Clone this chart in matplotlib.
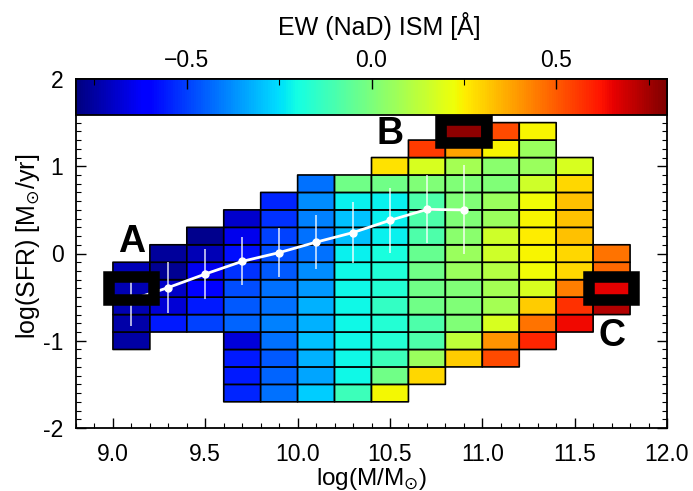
import numpy as np
import matplotlib
matplotlib.use('Agg')
import matplotlib.pyplot as plt
from matplotlib.patches import Rectangle
from matplotlib.ticker import MultipleLocator

plt.rcParams['font.family'] = ['Liberation Sans', 'DejaVu Sans']
plt.rcParams['axes.unicode_minus'] = False

# bin edges of the mass / SFR grid
mass_edges = [9.0, 9.2, 9.4, 9.6, 9.8, 10.0, 10.2, 10.4, 10.6, 10.8, 11.0, 11.2, 11.4, 11.6, 11.8]
sfr_edges = [-1.7, -1.5, -1.3, -1.1, -0.9, -0.7, -0.5, -0.3, -0.1, 0.1, 0.3, 0.5, 0.7, 0.9, 1.1, 1.3, 1.5]

N = np.nan
# EW(NaD) ISM per cell, rows listed from top (SFR 1.3-1.5) to bottom (SFR -1.7 to -1.5)
ew_rows = [
    [N, N, N, N, N, N, N, N, N, 0.78, 0.53, 0.24, N, N],
    [N, N, N, N, N, N, N, N, 0.55, 0.375, 0.24, 0.06, N, N],
    [N, N, N, N, N, N, N, 0.27, 0.18, 0.08, 0.03, 0.06, 0.18, N],
    [N, N, N, N, N, -0.42, -0.02, -0.02, 0.01, 0.01, 0.01, 0.16, 0.29, N],
    [N, N, N, N, -0.54, -0.38, -0.22, -0.22, -0.09, 0.01, 0.06, 0.23, 0.33, N],
    [N, N, N, -0.69, -0.52, -0.40, -0.30, -0.22, -0.09, 0.01, 0.06, 0.24, 0.33, N],
    [N, N, -0.78, -0.65, -0.50, -0.42, -0.30, -0.22, -0.09, 0.03, 0.16, 0.25, 0.33, N],
    [N, -0.76, -0.72, -0.58, -0.48, -0.42, -0.22, -0.19, -0.04, 0.06, 0.16, 0.24, 0.29, 0.46],
    [-0.72, -0.77, -0.64, -0.52, -0.46, -0.38, -0.21, -0.18, -0.02, 0.06, 0.11, 0.23, 0.29, 0.48],
    [-0.73, -0.70, -0.62, -0.48, -0.42, -0.36, -0.21, -0.17, -0.02, 0.01, 0.08, 0.18, 0.44, 0.66],
    [-0.73, -0.68, -0.56, -0.46, -0.42, -0.32, -0.21, -0.14, -0.02, 0.01, 0.08, 0.31, 0.57, 0.73],
    [-0.74, -0.56, -0.50, -0.44, -0.40, -0.32, -0.21, -0.17, -0.09, 0.01, 0.18, 0.46, 0.64, N],
    [-0.75, N, N, -0.67, -0.42, -0.30, -0.21, -0.17, -0.09, 0.13, 0.40, 0.59, N, N],
    [N, N, N, -0.56, -0.46, -0.32, -0.21, -0.12, 0.06, 0.31, 0.53, N, N, N],
    [N, N, N, -0.56, -0.44, -0.34, -0.21, -0.02, 0.29, N, N, N, N, N],
    [N, N, N, -0.54, -0.42, -0.28, -0.12, 0.235, N, N, N, N, N, N],
]

# mean SFR in mass bins with scatter
mass_mid = [9.1, 9.3, 9.5, 9.7, 9.9, 10.1, 10.3, 10.5, 10.7, 10.9]
sfr_mean = [-0.53, -0.39, -0.235, -0.09, 0.01, 0.13, 0.24, 0.38, 0.505, 0.50]
sfr_err = [0.30, 0.29, 0.29, 0.275, 0.28, 0.31, 0.35, 0.37, 0.39, 0.51]

# highlighted cells
box_labels = ['A', 'B', 'C']
box_x = [9.1, 10.9, 11.7]
box_y = [-0.4, 1.4, -0.4]
letter_x = [9.1, 10.5, 11.7]
letter_y = [0.13, 1.365, -0.94]

ew_grid = np.ma.masked_invalid(np.array(ew_rows[::-1]))

fig = plt.figure(figsize=(6.93, 4.91), dpi=100)
ax = fig.add_axes([76/693, 63/491, 591/693, 349/491])
cax = fig.add_axes([76/693, 376/491, 591/693, 36/491])

mesh = ax.pcolor(mass_edges, sfr_edges, ew_grid, cmap='jet', vmin=-0.8, vmax=0.8,
                 edgecolors='k', linewidth=1.2, zorder=1)

ax.errorbar(mass_mid, sfr_mean, yerr=sfr_err, fmt='none', ecolor='white',
            elinewidth=1.3, alpha=0.75, zorder=3)
ax.plot(mass_mid, sfr_mean, '-o', color='white', lw=2, ms=5, zorder=4)

for i in range(len(box_labels)):
    w, h = 0.246, 0.264
    ax.add_patch(Rectangle((box_x[i] - w/2, box_y[i] - h/2), w, h, fill=False,
                           ec='k', lw=8.3, joinstyle='miter', zorder=5))
    ax.text(letter_x[i], letter_y[i], box_labels[i], fontsize=27, fontweight='bold',
            ha='center', va='center', zorder=6)

ax.set_xlim(8.8, 12.0)
ax.set_ylim(-2, 2)
xt = [9.0, 9.5, 10.0, 10.5, 11.0, 11.5, 12.0]
ax.set_xticks(xt)
ax.set_xticklabels(['%.1f' % v for v in xt])
yt = [-2, -1, 0, 1, 2]
ax.set_yticks(yt)
ax.set_yticklabels([str(v) for v in yt])
ax.xaxis.set_minor_locator(MultipleLocator(0.1))
ax.yaxis.set_minor_locator(MultipleLocator(0.1))
ax.tick_params(which='both', direction='in', top=False, right=True, labelsize=16.5, pad=9)
ax.tick_params(axis='x', which='both', pad=11)
ax.tick_params(which='major', length=7, width=1)
ax.tick_params(which='minor', length=3.5, width=0.8)
for s in ax.spines.values():
    s.set_linewidth(1.3)

ax.set_xlabel('log(M/M$_{\u2299}$)', fontsize=17.5)
ax.set_ylabel('log(SFR) [M$_{\u2299}$/yr]', fontsize=18)
ax.xaxis.set_label_coords(0.5, -0.108)
ax.yaxis.set_label_coords(-0.0575, 0.52)

cb = fig.colorbar(mesh, cax=cax, orientation='horizontal', ticklocation='top')
cb.set_ticks([-0.5, 0.0, 0.5])
cb.set_ticklabels(['\u22120.5', '0.0', '0.5'])
cb.ax.xaxis.set_minor_locator(MultipleLocator(0.25))
cax.tick_params(which='both', direction='in', top=True, bottom=False, labelsize=16.5, pad=5)
cax.tick_params(which='major', length=7, width=1)
cax.tick_params(which='minor', length=4, width=0.8)
cb.outline.set_linewidth(1.3)

fig.text(379/693, 1 - 35/491, 'EW (NaD) ISM [\u00c5]', fontsize=18, ha='center', va='baseline')

fig.savefig('out.png', dpi=100)
